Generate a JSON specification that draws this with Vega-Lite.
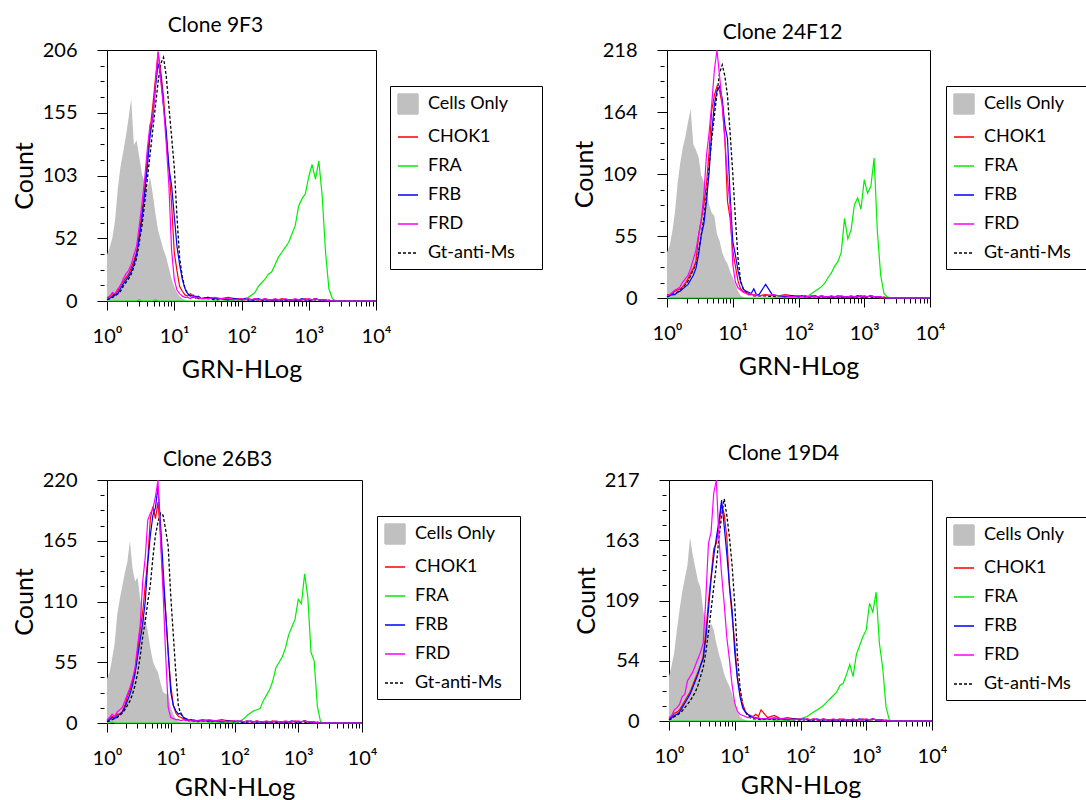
{
  "$schema": "https://vega.github.io/schema/vega-lite/v6.json",
  "background": "white",
  "padding": {"left": 11, "top": 14, "right": 0, "bottom": 0},
  "config": {
    "font": "Lato",
    "view": {"stroke": "black", "strokeWidth": 1},
    "axis": {"labelFont": "Lato", "labelFontSize": 20, "labelColor": "black", "titleFont": "Lato", "titleFontWeight": "normal", "titleColor": "black", "domainColor": "black", "tickColor": "black", "grid": false, "labelFlush": false, "labelOverlap": false},
    "title": {"font": "Lato", "fontSize": 21, "fontWeight": "normal", "color": "black", "anchor": "middle", "offset": 4},
    "legend": {"strokeColor": "black", "padding": 7, "labelFont": "Lato", "labelFontSize": 18, "labelColor": "black", "symbolSize": 400, "rowPadding": 9, "labelOffset": 9, "symbolStrokeWidth": 1.5, "symbolOpacity": 1, "titleOrient": "right", "titlePadding": 20, "titleFontSize": 18, "titleFont": "Lato"}
  },
  "datasets": {
    "c9F3": [
      {"e":0,"Cells Only":38,"CHOK1":2,"FRA":0,"FRB":1,"FRD":3,"Gt-anti-Ms":1},
      {"e":0.04,"Cells Only":44,"CHOK1":4,"FRA":0,"FRB":2,"FRD":3,"Gt-anti-Ms":2},
      {"e":0.08,"Cells Only":52,"CHOK1":6,"FRA":0,"FRB":4,"FRD":7,"Gt-anti-Ms":3},
      {"e":0.12,"Cells Only":66,"CHOK1":5,"FRA":0,"FRB":5,"FRD":6,"Gt-anti-Ms":4},
      {"e":0.16,"Cells Only":92,"CHOK1":8,"FRA":0,"FRB":6,"FRD":10,"Gt-anti-Ms":6},
      {"e":0.2,"Cells Only":110,"CHOK1":13,"FRA":0,"FRB":10,"FRD":12,"Gt-anti-Ms":8},
      {"e":0.24,"Cells Only":122,"CHOK1":16,"FRA":0,"FRB":14,"FRD":18,"Gt-anti-Ms":12},
      {"e":0.28,"Cells Only":135,"CHOK1":19,"FRA":0,"FRB":17,"FRD":22,"Gt-anti-Ms":15},
      {"e":0.32,"Cells Only":150,"CHOK1":22,"FRA":0,"FRB":20,"FRD":25,"Gt-anti-Ms":18},
      {"e":0.36,"Cells Only":166,"CHOK1":27,"FRA":0,"FRB":24,"FRD":30,"Gt-anti-Ms":22},
      {"e":0.4,"Cells Only":128,"CHOK1":33,"FRA":0,"FRB":30,"FRD":38,"Gt-anti-Ms":28},
      {"e":0.44,"Cells Only":132,"CHOK1":40,"FRA":0,"FRB":38,"FRD":45,"Gt-anti-Ms":35},
      {"e":0.48,"Cells Only":118,"CHOK1":55,"FRA":1,"FRB":52,"FRD":62,"Gt-anti-Ms":48},
      {"e":0.52,"Cells Only":104,"CHOK1":72,"FRA":0,"FRB":68,"FRD":80,"Gt-anti-Ms":62},
      {"e":0.56,"Cells Only":98,"CHOK1":92,"FRA":0,"FRB":88,"FRD":100,"Gt-anti-Ms":80},
      {"e":0.6,"Cells Only":92,"CHOK1":118,"FRA":0,"FRB":110,"FRD":125,"Gt-anti-Ms":100},
      {"e":0.64,"Cells Only":102,"CHOK1":140,"FRA":0,"FRB":135,"FRD":145,"Gt-anti-Ms":120},
      {"e":0.68,"Cells Only":88,"CHOK1":160,"FRA":0,"FRB":150,"FRD":148,"Gt-anti-Ms":140},
      {"e":0.72,"Cells Only":72,"CHOK1":182,"FRA":1,"FRB":175,"FRD":178,"Gt-anti-Ms":160},
      {"e":0.76,"Cells Only":58,"CHOK1":204,"FRA":0,"FRB":195,"FRD":205,"Gt-anti-Ms":180},
      {"e":0.8,"Cells Only":50,"CHOK1":188,"FRA":0,"FRB":185,"FRD":180,"Gt-anti-Ms":195},
      {"e":0.84,"Cells Only":42,"CHOK1":168,"FRA":0,"FRB":160,"FRD":160,"Gt-anti-Ms":200},
      {"e":0.88,"Cells Only":36,"CHOK1":135,"FRA":0,"FRB":140,"FRD":130,"Gt-anti-Ms":185},
      {"e":0.92,"Cells Only":27,"CHOK1":110,"FRA":0,"FRB":110,"FRD":95,"Gt-anti-Ms":160},
      {"e":0.96,"Cells Only":18,"CHOK1":80,"FRA":0,"FRB":95,"FRD":42,"Gt-anti-Ms":135},
      {"e":1,"Cells Only":12,"CHOK1":40,"FRA":0,"FRB":70,"FRD":18,"Gt-anti-Ms":110},
      {"e":1.04,"Cells Only":7,"CHOK1":25,"FRA":0,"FRB":45,"FRD":9,"Gt-anti-Ms":70},
      {"e":1.08,"Cells Only":4,"CHOK1":12,"FRA":0,"FRB":30,"FRD":6,"Gt-anti-Ms":35},
      {"e":1.12,"Cells Only":2,"CHOK1":8,"FRA":0,"FRB":18,"FRD":4,"Gt-anti-Ms":20},
      {"e":1.16,"Cells Only":1,"CHOK1":5,"FRA":0,"FRB":10,"FRD":3,"Gt-anti-Ms":10},
      {"e":1.2,"Cells Only":0,"CHOK1":4,"FRA":0,"FRB":6,"FRD":3,"Gt-anti-Ms":6},
      {"e":1.24,"CHOK1":6,"FRA":0,"FRB":4,"FRD":2,"Gt-anti-Ms":4},
      {"e":1.28,"CHOK1":3,"FRA":0,"FRB":5,"FRD":4,"Gt-anti-Ms":3},
      {"e":1.32,"CHOK1":4,"FRA":0,"FRB":3,"FRD":2,"Gt-anti-Ms":3},
      {"e":1.36,"CHOK1":3,"FRA":0,"FRB":4,"FRD":3,"Gt-anti-Ms":2},
      {"e":1.4,"CHOK1":2,"FRA":0,"FRB":2,"FRD":2,"Gt-anti-Ms":2},
      {"e":1.5,"CHOK1":3,"FRA":0,"FRB":3,"FRD":2,"Gt-anti-Ms":2},
      {"e":1.6,"CHOK1":2,"FRA":0,"FRB":2,"FRD":3,"Gt-anti-Ms":1},
      {"e":1.7,"CHOK1":2,"FRA":1,"FRB":2,"FRD":2,"Gt-anti-Ms":2},
      {"e":1.8,"CHOK1":3,"FRA":0,"FRB":1,"FRD":2,"Gt-anti-Ms":1},
      {"e":1.9,"CHOK1":2,"FRA":1,"FRB":2,"FRD":1,"Gt-anti-Ms":1},
      {"e":2,"CHOK1":2,"FRA":1,"FRB":1,"FRD":2,"Gt-anti-Ms":1},
      {"e":2.05,"CHOK1":1,"FRA":2,"FRB":2,"FRD":1,"Gt-anti-Ms":1},
      {"e":2.1,"CHOK1":2,"FRA":3,"FRB":1,"FRD":2,"Gt-anti-Ms":1},
      {"e":2.15,"CHOK1":1,"FRA":5,"FRB":1,"FRD":1,"Gt-anti-Ms":0},
      {"e":2.2,"CHOK1":2,"FRA":7,"FRB":1,"FRD":2,"Gt-anti-Ms":1},
      {"e":2.25,"CHOK1":1,"FRA":12,"FRB":2,"FRD":1,"Gt-anti-Ms":1},
      {"e":2.3,"CHOK1":1,"FRA":15,"FRB":1,"FRD":1,"Gt-anti-Ms":0},
      {"e":2.35,"CHOK1":2,"FRA":18,"FRB":1,"FRD":2,"Gt-anti-Ms":1},
      {"e":2.4,"CHOK1":1,"FRA":22,"FRB":1,"FRD":1,"Gt-anti-Ms":1},
      {"e":2.45,"CHOK1":1,"FRA":24,"FRB":1,"FRD":1,"Gt-anti-Ms":0},
      {"e":2.5,"CHOK1":1,"FRA":30,"FRB":1,"FRD":2,"Gt-anti-Ms":1},
      {"e":2.55,"CHOK1":1,"FRA":36,"FRB":1,"FRD":1,"Gt-anti-Ms":1},
      {"e":2.6,"CHOK1":2,"FRA":40,"FRB":1,"FRD":1,"Gt-anti-Ms":0},
      {"e":2.65,"CHOK1":1,"FRA":44,"FRB":1,"FRD":2,"Gt-anti-Ms":1},
      {"e":2.7,"CHOK1":1,"FRA":48,"FRB":1,"FRD":1,"Gt-anti-Ms":0},
      {"e":2.75,"CHOK1":1,"FRA":55,"FRB":1,"FRD":1,"Gt-anti-Ms":1},
      {"e":2.8,"CHOK1":1,"FRA":62,"FRB":1,"FRD":2,"Gt-anti-Ms":1},
      {"e":2.85,"CHOK1":1,"FRA":78,"FRB":1,"FRD":1,"Gt-anti-Ms":0},
      {"e":2.9,"CHOK1":1,"FRA":84,"FRB":2,"FRD":1,"Gt-anti-Ms":1},
      {"e":2.95,"CHOK1":2,"FRA":88,"FRB":1,"FRD":1,"Gt-anti-Ms":1},
      {"e":3,"CHOK1":1,"FRA":102,"FRB":1,"FRD":2,"Gt-anti-Ms":0},
      {"e":3.05,"CHOK1":1,"FRA":112,"FRB":1,"FRD":1,"Gt-anti-Ms":1},
      {"e":3.1,"CHOK1":2,"FRA":100,"FRB":2,"FRD":2,"Gt-anti-Ms":1},
      {"e":3.15,"CHOK1":1,"FRA":115,"FRB":1,"FRD":1,"Gt-anti-Ms":0},
      {"e":3.2,"CHOK1":1,"FRA":86,"FRB":1,"FRD":1,"Gt-anti-Ms":1},
      {"e":3.25,"CHOK1":0,"FRA":40,"FRB":1,"FRD":1,"Gt-anti-Ms":0},
      {"e":3.3,"CHOK1":1,"FRA":10,"FRB":0,"FRD":0,"Gt-anti-Ms":0},
      {"e":3.35,"CHOK1":0,"FRA":2,"FRB":0,"FRD":0,"Gt-anti-Ms":0},
      {"e":3.4,"CHOK1":0,"FRA":0,"FRB":0,"FRD":0,"Gt-anti-Ms":0},
      {"e":3.6,"CHOK1":0,"FRA":0,"FRB":0,"FRD":0,"Gt-anti-Ms":0},
      {"e":3.8,"CHOK1":0,"FRA":0,"FRB":0,"FRD":0,"Gt-anti-Ms":0},
      {"e":4,"CHOK1":0,"FRA":0,"FRB":0,"FRD":0,"Gt-anti-Ms":0}
    ],
    "c24F12": [
      {"e":0,"Cells Only":40,"CHOK1":3,"FRA":0,"FRB":1,"FRD":2,"Gt-anti-Ms":1},
      {"e":0.04,"Cells Only":46,"CHOK1":3,"FRA":0,"FRB":2,"FRD":3,"Gt-anti-Ms":2},
      {"e":0.08,"Cells Only":58,"CHOK1":4,"FRA":0,"FRB":3,"FRD":5,"Gt-anti-Ms":3},
      {"e":0.12,"Cells Only":75,"CHOK1":6,"FRA":0,"FRB":3,"FRD":7,"Gt-anti-Ms":4},
      {"e":0.16,"Cells Only":100,"CHOK1":7,"FRA":0,"FRB":5,"FRD":8,"Gt-anti-Ms":5},
      {"e":0.2,"Cells Only":118,"CHOK1":8,"FRA":0,"FRB":6,"FRD":10,"Gt-anti-Ms":7},
      {"e":0.24,"Cells Only":132,"CHOK1":10,"FRA":0,"FRB":8,"FRD":14,"Gt-anti-Ms":9},
      {"e":0.28,"Cells Only":142,"CHOK1":13,"FRA":0,"FRB":10,"FRD":17,"Gt-anti-Ms":12},
      {"e":0.32,"Cells Only":155,"CHOK1":17,"FRA":0,"FRB":12,"FRD":20,"Gt-anti-Ms":15},
      {"e":0.36,"Cells Only":166,"CHOK1":22,"FRA":0,"FRB":16,"FRD":26,"Gt-anti-Ms":20},
      {"e":0.4,"Cells Only":135,"CHOK1":26,"FRA":0,"FRB":20,"FRD":34,"Gt-anti-Ms":25},
      {"e":0.44,"Cells Only":130,"CHOK1":32,"FRA":0,"FRB":26,"FRD":42,"Gt-anti-Ms":30},
      {"e":0.48,"Cells Only":124,"CHOK1":55,"FRA":0,"FRB":38,"FRD":55,"Gt-anti-Ms":40},
      {"e":0.52,"Cells Only":108,"CHOK1":68,"FRA":0,"FRB":55,"FRD":68,"Gt-anti-Ms":55},
      {"e":0.56,"Cells Only":102,"CHOK1":82,"FRA":0,"FRB":65,"FRD":90,"Gt-anti-Ms":70},
      {"e":0.6,"Cells Only":95,"CHOK1":100,"FRA":0,"FRB":85,"FRD":125,"Gt-anti-Ms":90},
      {"e":0.64,"Cells Only":82,"CHOK1":128,"FRA":0,"FRB":110,"FRD":145,"Gt-anti-Ms":115},
      {"e":0.68,"Cells Only":75,"CHOK1":165,"FRA":0,"FRB":145,"FRD":170,"Gt-anti-Ms":140},
      {"e":0.72,"Cells Only":72,"CHOK1":178,"FRA":0,"FRB":170,"FRD":200,"Gt-anti-Ms":160},
      {"e":0.76,"Cells Only":56,"CHOK1":186,"FRA":0,"FRB":182,"FRD":218,"Gt-anti-Ms":180},
      {"e":0.8,"Cells Only":50,"CHOK1":182,"FRA":0,"FRB":186,"FRD":195,"Gt-anti-Ms":198},
      {"e":0.84,"Cells Only":40,"CHOK1":170,"FRA":0,"FRB":175,"FRD":170,"Gt-anti-Ms":205},
      {"e":0.88,"Cells Only":34,"CHOK1":140,"FRA":0,"FRB":152,"FRD":140,"Gt-anti-Ms":195},
      {"e":0.92,"Cells Only":30,"CHOK1":85,"FRA":0,"FRB":140,"FRD":105,"Gt-anti-Ms":178},
      {"e":0.96,"Cells Only":23,"CHOK1":70,"FRA":0,"FRB":90,"FRD":80,"Gt-anti-Ms":145},
      {"e":1,"Cells Only":18,"CHOK1":42,"FRA":0,"FRB":50,"FRD":30,"Gt-anti-Ms":110},
      {"e":1.04,"Cells Only":12,"CHOK1":28,"FRA":0,"FRB":38,"FRD":14,"Gt-anti-Ms":70},
      {"e":1.08,"Cells Only":6,"CHOK1":15,"FRA":0,"FRB":24,"FRD":9,"Gt-anti-Ms":35},
      {"e":1.12,"Cells Only":2,"CHOK1":8,"FRA":0,"FRB":14,"FRD":7,"Gt-anti-Ms":15},
      {"e":1.16,"Cells Only":1,"CHOK1":6,"FRA":0,"FRB":8,"FRD":5,"Gt-anti-Ms":8},
      {"e":1.2,"Cells Only":0,"CHOK1":5,"FRA":0,"FRB":6,"FRD":4,"Gt-anti-Ms":5},
      {"e":1.24,"CHOK1":4,"FRA":0,"FRB":5,"FRD":3,"Gt-anti-Ms":3},
      {"e":1.28,"CHOK1":3,"FRA":0,"FRB":4,"FRD":4,"Gt-anti-Ms":3},
      {"e":1.32,"CHOK1":3,"FRA":0,"FRB":8,"FRD":2,"Gt-anti-Ms":2},
      {"e":1.36,"CHOK1":2,"FRA":0,"FRB":3,"FRD":3,"Gt-anti-Ms":2},
      {"e":1.4,"CHOK1":2,"FRA":0,"FRB":3,"FRD":2,"Gt-anti-Ms":2},
      {"e":1.5,"CHOK1":3,"FRA":0,"FRB":12,"FRD":2,"Gt-anti-Ms":2},
      {"e":1.6,"CHOK1":2,"FRA":0,"FRB":3,"FRD":3,"Gt-anti-Ms":1},
      {"e":1.7,"CHOK1":2,"FRA":1,"FRB":2,"FRD":2,"Gt-anti-Ms":2},
      {"e":1.8,"CHOK1":3,"FRA":0,"FRB":1,"FRD":2,"Gt-anti-Ms":1},
      {"e":1.9,"CHOK1":2,"FRA":1,"FRB":2,"FRD":1,"Gt-anti-Ms":1},
      {"e":2,"CHOK1":2,"FRA":0,"FRB":1,"FRD":2,"Gt-anti-Ms":1},
      {"e":2.05,"CHOK1":1,"FRA":1,"FRB":2,"FRD":1,"Gt-anti-Ms":1},
      {"e":2.1,"CHOK1":2,"FRA":1,"FRB":1,"FRD":2,"Gt-anti-Ms":1},
      {"e":2.15,"CHOK1":1,"FRA":2,"FRB":1,"FRD":1,"Gt-anti-Ms":0},
      {"e":2.2,"CHOK1":2,"FRA":4,"FRB":1,"FRD":2,"Gt-anti-Ms":1},
      {"e":2.25,"CHOK1":1,"FRA":6,"FRB":2,"FRD":1,"Gt-anti-Ms":1},
      {"e":2.3,"CHOK1":1,"FRA":8,"FRB":1,"FRD":1,"Gt-anti-Ms":0},
      {"e":2.35,"CHOK1":2,"FRA":10,"FRB":1,"FRD":2,"Gt-anti-Ms":1},
      {"e":2.4,"CHOK1":1,"FRA":13,"FRB":1,"FRD":1,"Gt-anti-Ms":1},
      {"e":2.45,"CHOK1":1,"FRA":18,"FRB":1,"FRD":1,"Gt-anti-Ms":0},
      {"e":2.5,"CHOK1":1,"FRA":22,"FRB":1,"FRD":2,"Gt-anti-Ms":1},
      {"e":2.55,"CHOK1":1,"FRA":28,"FRB":1,"FRD":1,"Gt-anti-Ms":1},
      {"e":2.6,"CHOK1":2,"FRA":32,"FRB":1,"FRD":1,"Gt-anti-Ms":0},
      {"e":2.65,"CHOK1":1,"FRA":40,"FRB":1,"FRD":2,"Gt-anti-Ms":1},
      {"e":2.7,"CHOK1":1,"FRA":70,"FRB":1,"FRD":1,"Gt-anti-Ms":0},
      {"e":2.75,"CHOK1":1,"FRA":52,"FRB":1,"FRD":1,"Gt-anti-Ms":1},
      {"e":2.8,"CHOK1":1,"FRA":60,"FRB":1,"FRD":2,"Gt-anti-Ms":1},
      {"e":2.85,"CHOK1":1,"FRA":82,"FRB":1,"FRD":1,"Gt-anti-Ms":0},
      {"e":2.9,"CHOK1":1,"FRA":88,"FRB":2,"FRD":1,"Gt-anti-Ms":1},
      {"e":2.95,"CHOK1":2,"FRA":78,"FRB":1,"FRD":1,"Gt-anti-Ms":1},
      {"e":3,"CHOK1":1,"FRA":104,"FRB":1,"FRD":2,"Gt-anti-Ms":0},
      {"e":3.05,"CHOK1":1,"FRA":92,"FRB":1,"FRD":1,"Gt-anti-Ms":1},
      {"e":3.1,"CHOK1":2,"FRA":98,"FRB":2,"FRD":2,"Gt-anti-Ms":1},
      {"e":3.15,"CHOK1":1,"FRA":123,"FRB":1,"FRD":1,"Gt-anti-Ms":0},
      {"e":3.2,"CHOK1":1,"FRA":58,"FRB":1,"FRD":1,"Gt-anti-Ms":1},
      {"e":3.25,"CHOK1":0,"FRA":20,"FRB":1,"FRD":1,"Gt-anti-Ms":0},
      {"e":3.3,"CHOK1":1,"FRA":4,"FRB":0,"FRD":0,"Gt-anti-Ms":0},
      {"e":3.35,"CHOK1":0,"FRA":1,"FRB":0,"FRD":0,"Gt-anti-Ms":0},
      {"e":3.4,"CHOK1":0,"FRA":0,"FRB":0,"FRD":0,"Gt-anti-Ms":0},
      {"e":3.6,"CHOK1":0,"FRA":0,"FRB":0,"FRD":0,"Gt-anti-Ms":0},
      {"e":3.8,"CHOK1":0,"FRA":0,"FRB":0,"FRD":0,"Gt-anti-Ms":0},
      {"e":4,"CHOK1":0,"FRA":0,"FRB":0,"FRD":0,"Gt-anti-Ms":0}
    ],
    "c26B3": [
      {"e":0,"Cells Only":40,"CHOK1":2,"FRA":0,"FRB":1,"FRD":3,"Gt-anti-Ms":1},
      {"e":0.04,"Cells Only":46,"CHOK1":4,"FRA":0,"FRB":3,"FRD":5,"Gt-anti-Ms":2},
      {"e":0.08,"Cells Only":58,"CHOK1":6,"FRA":1,"FRB":5,"FRD":8,"Gt-anti-Ms":3},
      {"e":0.12,"Cells Only":72,"CHOK1":5,"FRA":0,"FRB":4,"FRD":6,"Gt-anti-Ms":4},
      {"e":0.16,"Cells Only":98,"CHOK1":8,"FRA":0,"FRB":6,"FRD":10,"Gt-anti-Ms":5},
      {"e":0.2,"Cells Only":112,"CHOK1":8,"FRA":0,"FRB":8,"FRD":12,"Gt-anti-Ms":7},
      {"e":0.24,"Cells Only":124,"CHOK1":10,"FRA":0,"FRB":10,"FRD":14,"Gt-anti-Ms":9},
      {"e":0.28,"Cells Only":136,"CHOK1":16,"FRA":0,"FRB":14,"FRD":20,"Gt-anti-Ms":12},
      {"e":0.32,"Cells Only":146,"CHOK1":24,"FRA":0,"FRB":20,"FRD":26,"Gt-anti-Ms":16},
      {"e":0.36,"Cells Only":165,"CHOK1":30,"FRA":0,"FRB":26,"FRD":32,"Gt-anti-Ms":20},
      {"e":0.4,"Cells Only":140,"CHOK1":38,"FRA":0,"FRB":34,"FRD":40,"Gt-anti-Ms":26},
      {"e":0.44,"Cells Only":128,"CHOK1":48,"FRA":0,"FRB":45,"FRD":50,"Gt-anti-Ms":34},
      {"e":0.48,"Cells Only":132,"CHOK1":65,"FRA":0,"FRB":60,"FRD":70,"Gt-anti-Ms":45},
      {"e":0.52,"Cells Only":112,"CHOK1":85,"FRA":0,"FRB":75,"FRD":88,"Gt-anti-Ms":60},
      {"e":0.56,"Cells Only":100,"CHOK1":100,"FRA":0,"FRB":90,"FRD":128,"Gt-anti-Ms":78},
      {"e":0.6,"Cells Only":94,"CHOK1":125,"FRA":0,"FRB":110,"FRD":150,"Gt-anti-Ms":92},
      {"e":0.64,"Cells Only":83,"CHOK1":148,"FRA":0,"FRB":145,"FRD":184,"Gt-anti-Ms":110},
      {"e":0.68,"Cells Only":68,"CHOK1":185,"FRA":0,"FRB":170,"FRD":190,"Gt-anti-Ms":125},
      {"e":0.72,"Cells Only":56,"CHOK1":196,"FRA":0,"FRB":188,"FRD":194,"Gt-anti-Ms":150},
      {"e":0.76,"Cells Only":50,"CHOK1":185,"FRA":0,"FRB":195,"FRD":205,"Gt-anti-Ms":170},
      {"e":0.8,"Cells Only":46,"CHOK1":200,"FRA":0,"FRB":214,"FRD":220,"Gt-anti-Ms":182},
      {"e":0.84,"Cells Only":36,"CHOK1":170,"FRA":0,"FRB":180,"FRD":165,"Gt-anti-Ms":190},
      {"e":0.88,"Cells Only":28,"CHOK1":128,"FRA":0,"FRB":140,"FRD":118,"Gt-anti-Ms":188},
      {"e":0.92,"Cells Only":26,"CHOK1":100,"FRA":0,"FRB":100,"FRD":62,"Gt-anti-Ms":175},
      {"e":0.96,"Cells Only":27,"CHOK1":62,"FRA":0,"FRB":65,"FRD":14,"Gt-anti-Ms":160},
      {"e":1,"Cells Only":14,"CHOK1":34,"FRA":0,"FRB":28,"FRD":5,"Gt-anti-Ms":115},
      {"e":1.04,"Cells Only":8,"CHOK1":16,"FRA":0,"FRB":16,"FRD":4,"Gt-anti-Ms":80},
      {"e":1.08,"Cells Only":4,"CHOK1":9,"FRA":0,"FRB":11,"FRD":3,"Gt-anti-Ms":45},
      {"e":1.12,"Cells Only":2,"CHOK1":6,"FRA":0,"FRB":8,"FRD":3,"Gt-anti-Ms":15},
      {"e":1.16,"Cells Only":0,"CHOK1":5,"FRA":0,"FRB":9,"FRD":2,"Gt-anti-Ms":8},
      {"e":1.2,"CHOK1":4,"FRA":0,"FRB":5,"FRD":3,"Gt-anti-Ms":5},
      {"e":1.24,"CHOK1":3,"FRA":0,"FRB":4,"FRD":2,"Gt-anti-Ms":3},
      {"e":1.28,"CHOK1":3,"FRA":0,"FRB":3,"FRD":3,"Gt-anti-Ms":2},
      {"e":1.32,"CHOK1":2,"FRA":0,"FRB":3,"FRD":2,"Gt-anti-Ms":2},
      {"e":1.36,"CHOK1":3,"FRA":0,"FRB":2,"FRD":2,"Gt-anti-Ms":2},
      {"e":1.4,"CHOK1":2,"FRA":0,"FRB":2,"FRD":2,"Gt-anti-Ms":1},
      {"e":1.5,"CHOK1":3,"FRA":0,"FRB":2,"FRD":2,"Gt-anti-Ms":2},
      {"e":1.6,"CHOK1":2,"FRA":0,"FRB":2,"FRD":3,"Gt-anti-Ms":1},
      {"e":1.7,"CHOK1":2,"FRA":1,"FRB":2,"FRD":2,"Gt-anti-Ms":2},
      {"e":1.8,"CHOK1":3,"FRA":0,"FRB":1,"FRD":2,"Gt-anti-Ms":1},
      {"e":1.9,"CHOK1":2,"FRA":1,"FRB":2,"FRD":1,"Gt-anti-Ms":1},
      {"e":2,"CHOK1":2,"FRA":0,"FRB":1,"FRD":2,"Gt-anti-Ms":1},
      {"e":2.05,"CHOK1":1,"FRA":1,"FRB":2,"FRD":1,"Gt-anti-Ms":1},
      {"e":2.1,"CHOK1":2,"FRA":2,"FRB":1,"FRD":2,"Gt-anti-Ms":1},
      {"e":2.15,"CHOK1":1,"FRA":4,"FRB":1,"FRD":1,"Gt-anti-Ms":0},
      {"e":2.2,"CHOK1":2,"FRA":7,"FRB":1,"FRD":2,"Gt-anti-Ms":1},
      {"e":2.25,"CHOK1":1,"FRA":9,"FRB":2,"FRD":1,"Gt-anti-Ms":1},
      {"e":2.3,"CHOK1":1,"FRA":11,"FRB":1,"FRD":1,"Gt-anti-Ms":0},
      {"e":2.35,"CHOK1":2,"FRA":12,"FRB":1,"FRD":2,"Gt-anti-Ms":1},
      {"e":2.4,"CHOK1":1,"FRA":13,"FRB":1,"FRD":1,"Gt-anti-Ms":1},
      {"e":2.45,"CHOK1":1,"FRA":20,"FRB":1,"FRD":1,"Gt-anti-Ms":0},
      {"e":2.5,"CHOK1":1,"FRA":25,"FRB":1,"FRD":2,"Gt-anti-Ms":1},
      {"e":2.55,"CHOK1":1,"FRA":30,"FRB":1,"FRD":1,"Gt-anti-Ms":1},
      {"e":2.6,"CHOK1":2,"FRA":38,"FRB":1,"FRD":1,"Gt-anti-Ms":0},
      {"e":2.65,"CHOK1":1,"FRA":50,"FRB":1,"FRD":2,"Gt-anti-Ms":1},
      {"e":2.7,"CHOK1":1,"FRA":55,"FRB":1,"FRD":1,"Gt-anti-Ms":0},
      {"e":2.75,"CHOK1":1,"FRA":60,"FRB":1,"FRD":1,"Gt-anti-Ms":1},
      {"e":2.8,"CHOK1":1,"FRA":68,"FRB":1,"FRD":2,"Gt-anti-Ms":1},
      {"e":2.85,"CHOK1":1,"FRA":80,"FRB":1,"FRD":1,"Gt-anti-Ms":0},
      {"e":2.9,"CHOK1":1,"FRA":87,"FRB":2,"FRD":1,"Gt-anti-Ms":1},
      {"e":2.95,"CHOK1":2,"FRA":94,"FRB":1,"FRD":1,"Gt-anti-Ms":1},
      {"e":3,"CHOK1":1,"FRA":112,"FRB":1,"FRD":2,"Gt-anti-Ms":0},
      {"e":3.05,"CHOK1":1,"FRA":108,"FRB":1,"FRD":1,"Gt-anti-Ms":1},
      {"e":3.1,"CHOK1":2,"FRA":135,"FRB":2,"FRD":2,"Gt-anti-Ms":1},
      {"e":3.15,"CHOK1":1,"FRA":114,"FRB":1,"FRD":1,"Gt-anti-Ms":0},
      {"e":3.2,"CHOK1":1,"FRA":64,"FRB":1,"FRD":1,"Gt-anti-Ms":1},
      {"e":3.25,"CHOK1":0,"FRA":56,"FRB":1,"FRD":1,"Gt-anti-Ms":0},
      {"e":3.3,"CHOK1":1,"FRA":15,"FRB":0,"FRD":0,"Gt-anti-Ms":0},
      {"e":3.35,"CHOK1":0,"FRA":1,"FRB":0,"FRD":0,"Gt-anti-Ms":0},
      {"e":3.4,"CHOK1":0,"FRA":0,"FRB":0,"FRD":0,"Gt-anti-Ms":0},
      {"e":3.6,"CHOK1":0,"FRA":0,"FRB":0,"FRD":0,"Gt-anti-Ms":0},
      {"e":3.8,"CHOK1":0,"FRA":0,"FRB":0,"FRD":0,"Gt-anti-Ms":0},
      {"e":4,"CHOK1":0,"FRA":0,"FRB":0,"FRD":0,"Gt-anti-Ms":0}
    ],
    "c19D4": [
      {"e":0,"Cells Only":40,"CHOK1":2,"FRA":0,"FRB":1,"FRD":3,"Gt-anti-Ms":1},
      {"e":0.04,"Cells Only":50,"CHOK1":4,"FRA":0,"FRB":3,"FRD":5,"Gt-anti-Ms":2},
      {"e":0.08,"Cells Only":62,"CHOK1":7,"FRA":0,"FRB":5,"FRD":10,"Gt-anti-Ms":4},
      {"e":0.12,"Cells Only":82,"CHOK1":8,"FRA":0,"FRB":6,"FRD":12,"Gt-anti-Ms":5},
      {"e":0.16,"Cells Only":100,"CHOK1":10,"FRA":0,"FRB":8,"FRD":15,"Gt-anti-Ms":7},
      {"e":0.2,"Cells Only":116,"CHOK1":14,"FRA":0,"FRB":12,"FRD":22,"Gt-anti-Ms":9},
      {"e":0.24,"Cells Only":128,"CHOK1":18,"FRA":0,"FRB":16,"FRD":24,"Gt-anti-Ms":12},
      {"e":0.28,"Cells Only":140,"CHOK1":22,"FRA":0,"FRB":20,"FRD":36,"Gt-anti-Ms":15},
      {"e":0.32,"Cells Only":165,"CHOK1":26,"FRA":0,"FRB":24,"FRD":40,"Gt-anti-Ms":18},
      {"e":0.36,"Cells Only":150,"CHOK1":32,"FRA":0,"FRB":30,"FRD":44,"Gt-anti-Ms":22},
      {"e":0.4,"Cells Only":138,"CHOK1":38,"FRA":0,"FRB":36,"FRD":50,"Gt-anti-Ms":26},
      {"e":0.44,"Cells Only":126,"CHOK1":44,"FRA":0,"FRB":42,"FRD":56,"Gt-anti-Ms":32},
      {"e":0.48,"Cells Only":120,"CHOK1":50,"FRA":0,"FRB":50,"FRD":62,"Gt-anti-Ms":40},
      {"e":0.52,"Cells Only":100,"CHOK1":58,"FRA":0,"FRB":56,"FRD":70,"Gt-anti-Ms":48},
      {"e":0.56,"Cells Only":88,"CHOK1":80,"FRA":0,"FRB":75,"FRD":110,"Gt-anti-Ms":62},
      {"e":0.6,"Cells Only":82,"CHOK1":108,"FRA":0,"FRB":100,"FRD":160,"Gt-anti-Ms":80},
      {"e":0.64,"Cells Only":88,"CHOK1":130,"FRA":0,"FRB":128,"FRD":170,"Gt-anti-Ms":100},
      {"e":0.68,"Cells Only":82,"CHOK1":155,"FRA":0,"FRB":148,"FRD":205,"Gt-anti-Ms":120},
      {"e":0.72,"Cells Only":70,"CHOK1":160,"FRA":0,"FRB":165,"FRD":217,"Gt-anti-Ms":140},
      {"e":0.76,"Cells Only":60,"CHOK1":175,"FRA":0,"FRB":180,"FRD":164,"Gt-anti-Ms":165},
      {"e":0.8,"Cells Only":52,"CHOK1":195,"FRA":0,"FRB":199,"FRD":132,"Gt-anti-Ms":185},
      {"e":0.84,"Cells Only":42,"CHOK1":186,"FRA":0,"FRB":175,"FRD":105,"Gt-anti-Ms":200},
      {"e":0.88,"Cells Only":36,"CHOK1":165,"FRA":0,"FRB":150,"FRD":75,"Gt-anti-Ms":185},
      {"e":0.92,"Cells Only":31,"CHOK1":120,"FRA":0,"FRB":122,"FRD":55,"Gt-anti-Ms":165},
      {"e":0.96,"Cells Only":24,"CHOK1":94,"FRA":0,"FRB":100,"FRD":32,"Gt-anti-Ms":140},
      {"e":1,"Cells Only":16,"CHOK1":70,"FRA":0,"FRB":62,"FRD":16,"Gt-anti-Ms":105},
      {"e":1.04,"Cells Only":9,"CHOK1":40,"FRA":0,"FRB":38,"FRD":9,"Gt-anti-Ms":60},
      {"e":1.08,"Cells Only":4,"CHOK1":25,"FRA":0,"FRB":22,"FRD":6,"Gt-anti-Ms":30},
      {"e":1.12,"Cells Only":2,"CHOK1":15,"FRA":0,"FRB":12,"FRD":5,"Gt-anti-Ms":15},
      {"e":1.16,"Cells Only":1,"CHOK1":9,"FRA":0,"FRB":8,"FRD":4,"Gt-anti-Ms":8},
      {"e":1.2,"Cells Only":0,"CHOK1":6,"FRA":0,"FRB":6,"FRD":3,"Gt-anti-Ms":5},
      {"e":1.24,"CHOK1":5,"FRA":0,"FRB":4,"FRD":3,"Gt-anti-Ms":3},
      {"e":1.28,"CHOK1":4,"FRA":0,"FRB":3,"FRD":4,"Gt-anti-Ms":2},
      {"e":1.32,"CHOK1":6,"FRA":0,"FRB":3,"FRD":2,"Gt-anti-Ms":2},
      {"e":1.36,"CHOK1":4,"FRA":0,"FRB":2,"FRD":3,"Gt-anti-Ms":2},
      {"e":1.4,"CHOK1":10,"FRA":0,"FRB":2,"FRD":2,"Gt-anti-Ms":1},
      {"e":1.5,"CHOK1":3,"FRA":0,"FRB":2,"FRD":2,"Gt-anti-Ms":2},
      {"e":1.6,"CHOK1":5,"FRA":0,"FRB":2,"FRD":3,"Gt-anti-Ms":1},
      {"e":1.7,"CHOK1":2,"FRA":1,"FRB":2,"FRD":2,"Gt-anti-Ms":2},
      {"e":1.8,"CHOK1":3,"FRA":0,"FRB":1,"FRD":2,"Gt-anti-Ms":1},
      {"e":1.9,"CHOK1":2,"FRA":1,"FRB":2,"FRD":1,"Gt-anti-Ms":1},
      {"e":2,"CHOK1":2,"FRA":2,"FRB":1,"FRD":2,"Gt-anti-Ms":1},
      {"e":2.05,"CHOK1":1,"FRA":3,"FRB":2,"FRD":1,"Gt-anti-Ms":1},
      {"e":2.1,"CHOK1":2,"FRA":4,"FRB":1,"FRD":2,"Gt-anti-Ms":1},
      {"e":2.15,"CHOK1":1,"FRA":6,"FRB":1,"FRD":1,"Gt-anti-Ms":0},
      {"e":2.2,"CHOK1":2,"FRA":8,"FRB":1,"FRD":2,"Gt-anti-Ms":1},
      {"e":2.25,"CHOK1":1,"FRA":10,"FRB":2,"FRD":1,"Gt-anti-Ms":1},
      {"e":2.3,"CHOK1":1,"FRA":12,"FRB":1,"FRD":1,"Gt-anti-Ms":0},
      {"e":2.35,"CHOK1":2,"FRA":14,"FRB":1,"FRD":2,"Gt-anti-Ms":1},
      {"e":2.4,"CHOK1":1,"FRA":17,"FRB":1,"FRD":1,"Gt-anti-Ms":1},
      {"e":2.45,"CHOK1":1,"FRA":20,"FRB":1,"FRD":1,"Gt-anti-Ms":0},
      {"e":2.5,"CHOK1":1,"FRA":23,"FRB":1,"FRD":2,"Gt-anti-Ms":1},
      {"e":2.55,"CHOK1":1,"FRA":26,"FRB":1,"FRD":1,"Gt-anti-Ms":1},
      {"e":2.6,"CHOK1":2,"FRA":32,"FRB":1,"FRD":1,"Gt-anti-Ms":0},
      {"e":2.65,"CHOK1":1,"FRA":34,"FRB":1,"FRD":2,"Gt-anti-Ms":1},
      {"e":2.7,"CHOK1":1,"FRA":42,"FRB":1,"FRD":1,"Gt-anti-Ms":0},
      {"e":2.75,"CHOK1":1,"FRA":51,"FRB":1,"FRD":1,"Gt-anti-Ms":1},
      {"e":2.8,"CHOK1":1,"FRA":40,"FRB":1,"FRD":2,"Gt-anti-Ms":1},
      {"e":2.85,"CHOK1":1,"FRA":60,"FRB":1,"FRD":1,"Gt-anti-Ms":0},
      {"e":2.9,"CHOK1":1,"FRA":68,"FRB":2,"FRD":1,"Gt-anti-Ms":1},
      {"e":2.95,"CHOK1":2,"FRA":76,"FRB":1,"FRD":1,"Gt-anti-Ms":1},
      {"e":3,"CHOK1":1,"FRA":82,"FRB":1,"FRD":2,"Gt-anti-Ms":0},
      {"e":3.05,"CHOK1":1,"FRA":106,"FRB":1,"FRD":1,"Gt-anti-Ms":1},
      {"e":3.1,"CHOK1":2,"FRA":98,"FRB":2,"FRD":2,"Gt-anti-Ms":1},
      {"e":3.15,"CHOK1":1,"FRA":116,"FRB":1,"FRD":1,"Gt-anti-Ms":0},
      {"e":3.2,"CHOK1":1,"FRA":70,"FRB":1,"FRD":1,"Gt-anti-Ms":1},
      {"e":3.25,"CHOK1":0,"FRA":48,"FRB":1,"FRD":1,"Gt-anti-Ms":0},
      {"e":3.3,"CHOK1":1,"FRA":13,"FRB":0,"FRD":0,"Gt-anti-Ms":0},
      {"e":3.35,"CHOK1":0,"FRA":1,"FRB":0,"FRD":0,"Gt-anti-Ms":0},
      {"e":3.4,"CHOK1":0,"FRA":0,"FRB":0,"FRD":0,"Gt-anti-Ms":0},
      {"e":3.6,"CHOK1":0,"FRA":0,"FRB":0,"FRD":0,"Gt-anti-Ms":0},
      {"e":3.8,"CHOK1":0,"FRA":0,"FRB":0,"FRD":0,"Gt-anti-Ms":0},
      {"e":4,"CHOK1":0,"FRA":0,"FRB":0,"FRD":0,"Gt-anti-Ms":0}
    ]
  },
  "resolve": {"scale": {"color": "independent", "fill": "independent", "stroke": "independent", "shape": "independent", "strokeDash": "independent"}, "legend": {"color": "independent", "fill": "independent", "stroke": "independent", "shape": "independent", "strokeDash": "independent"}},
  "spacing": 59,
  "vconcat": [
    {
      "resolve": {"scale": {"color": "independent", "fill": "independent", "stroke": "independent", "shape": "independent", "strokeDash": "independent"}, "legend": {"color": "independent", "fill": "independent", "stroke": "independent", "shape": "independent", "strokeDash": "independent"}},
      "spacing": 28,
      "hconcat": [
        {
          "width": 269, "height": 251,
          "data": {"name": "c9F3"},
          "title": {"text": "Clone 9F3", "dx": -26, "offset": 4},
          "transform": [{"fold": ["Cells Only","CHOK1","FRA","FRB","FRD","Gt-anti-Ms"], "as": ["series","count"]}],
          "resolve": {"axis": {"x": "independent", "y": "independent"}},
          "layer": [
            {
              "transform": [{"filter": "false"}],
              "mark": {"type": "point", "filled": false},
              "encoding": {
                "fill": {"field": "series", "type": "nominal", "scale": {"domain": ["Cells Only","CHOK1","FRA","FRB","FRD","Gt-anti-Ms"], "range": ["#c0c0c0","transparent","transparent","transparent","transparent","transparent"]}, "legend": {"title": "\u00a0", "orient": "none", "legendX": 283, "legendY": 36}},
                "stroke": {"field": "series", "type": "nominal", "scale": {"domain": ["Cells Only","CHOK1","FRA","FRB","FRD","Gt-anti-Ms"], "range": ["#c0c0c0","#ff0000","#00ee00","#0000ff","#ff00ff","#000000"]}, "legend": {"title": "\u00a0", "orient": "none", "legendX": 283, "legendY": 36}},
                "shape": {"field": "series", "type": "nominal", "scale": {"domain": ["Cells Only","CHOK1","FRA","FRB","FRD","Gt-anti-Ms"], "range": ["square","stroke","stroke","stroke","stroke","stroke"]}, "legend": {"title": "\u00a0", "orient": "none", "legendX": 283, "legendY": 36}},
                "strokeDash": {"field": "series", "type": "nominal", "scale": {"domain": ["Cells Only","CHOK1","FRA","FRB","FRD","Gt-anti-Ms"], "range": [[1,0],[1,0],[1,0],[1,0],[1,0],[3,2]]}, "legend": {"title": "\u00a0", "orient": "none", "legendX": 283, "legendY": 36}}
              }
            },
            {
              "transform": [{"filter": "datum.series === 'Cells Only' && datum.count != null"}],
              "mark": {"type": "area", "interpolate": "linear"},
              "encoding": {
                "x": {"field": "e", "type": "quantitative", "scale": {"domain": [0,4], "nice": false, "zero": false}, "axis": {"orient": "bottom", "values": [0,1,2,3,4], "labelExpr": "'10' + ['⁰','¹','²','³','⁴'][datum.value]", "title": "GRN-HLog", "titleFontSize": 25, "tickSize": 9, "labelPadding": 16, "titlePadding": 11}},
                "y": {"field": "count", "type": "quantitative", "scale": {"domain": [0,206], "nice": false}, "axis": {"orient": "left", "values": [0,51.5,103,154.5,206], "format": "d", "title": "Count", "titleFontSize": 25, "tickSize": 10, "labelPadding": 20, "titlePadding": 5}},
                "color": {"field": "series", "type": "nominal", "scale": {"domain": ["CHOK1","FRA","FRB","FRD","Gt-anti-Ms","Cells Only"], "range": ["#ff0000","#00ee00","#0000ff","#ff00ff","#000000","#c0c0c0"]}, "legend": null}
              }
            },
            {
              "transform": [{"filter": "datum.series === 'Gt-anti-Ms'"}],
              "mark": {"type": "line", "strokeWidth": 1.3, "strokeDash": [3,2]},
              "encoding": {
                "x": {"field": "e", "type": "quantitative", "axis": {"orient": "bottom", "values": [0.30103,0.47712,0.60206,0.69897,0.77815,0.8451,0.90309,0.95424,1.30103,1.47712,1.60206,1.69897,1.77815,1.8451,1.90309,1.95424,2.30103,2.47712,2.60206,2.69897,2.77815,2.8451,2.90309,2.95424,3.30103,3.47712,3.60206,3.69897,3.77815,3.8451,3.90309,3.95424], "labels": false, "domain": false, "title": null, "tickSize": 5}},
                "y": {"field": "count", "type": "quantitative", "axis": {"orient": "left", "values": [12.875,25.75,38.625,64.375,77.25,90.125,115.875,128.75,141.625,167.375,180.25,193.125], "labels": false, "domain": false, "title": null, "tickSize": 4, "offset": 3}},
                "color": {"field": "series", "type": "nominal", "legend": null}
              }
            },
            {
              "transform": [{"filter": "datum.series !== 'Cells Only' && datum.series !== 'Gt-anti-Ms'"}],
              "mark": {"type": "line", "strokeWidth": 1.2},
              "encoding": {
                "x": {"field": "e", "type": "quantitative", "axis": null},
                "y": {"field": "count", "type": "quantitative", "axis": null},
                "color": {"field": "series", "type": "nominal", "legend": null}
              }
            }
          ]
        },
        {
          "width": 263, "height": 248,
          "data": {"name": "c24F12"},
          "title": {"text": "Clone 24F12", "dx": -16, "offset": -3},
          "transform": [{"fold": ["Cells Only","CHOK1","FRA","FRB","FRD","Gt-anti-Ms"], "as": ["series","count"]}],
          "resolve": {"axis": {"x": "independent", "y": "independent"}},
          "layer": [
            {
              "transform": [{"filter": "false"}],
              "mark": {"type": "point", "filled": false},
              "encoding": {
                "fill": {"field": "series", "type": "nominal", "scale": {"domain": ["Cells Only","CHOK1","FRA","FRB","FRD","Gt-anti-Ms"], "range": ["#c0c0c0","transparent","transparent","transparent","transparent","transparent"]}, "legend": {"title": "\u00a0", "orient": "none", "legendX": 279, "legendY": 36}},
                "stroke": {"field": "series", "type": "nominal", "scale": {"domain": ["Cells Only","CHOK1","FRA","FRB","FRD","Gt-anti-Ms"], "range": ["#c0c0c0","#ff0000","#00ee00","#0000ff","#ff00ff","#000000"]}, "legend": {"title": "\u00a0", "orient": "none", "legendX": 279, "legendY": 36}},
                "shape": {"field": "series", "type": "nominal", "scale": {"domain": ["Cells Only","CHOK1","FRA","FRB","FRD","Gt-anti-Ms"], "range": ["square","stroke","stroke","stroke","stroke","stroke"]}, "legend": {"title": "\u00a0", "orient": "none", "legendX": 279, "legendY": 36}},
                "strokeDash": {"field": "series", "type": "nominal", "scale": {"domain": ["Cells Only","CHOK1","FRA","FRB","FRD","Gt-anti-Ms"], "range": [[1,0],[1,0],[1,0],[1,0],[1,0],[3,2]]}, "legend": {"title": "\u00a0", "orient": "none", "legendX": 279, "legendY": 36}}
              }
            },
            {
              "transform": [{"filter": "datum.series === 'Cells Only' && datum.count != null"}],
              "mark": {"type": "area", "interpolate": "linear"},
              "encoding": {
                "x": {"field": "e", "type": "quantitative", "scale": {"domain": [0,4], "nice": false, "zero": false}, "axis": {"orient": "bottom", "values": [0,1,2,3,4], "labelExpr": "'10' + ['⁰','¹','²','³','⁴'][datum.value]", "title": "GRN-HLog", "titleFontSize": 25, "tickSize": 9, "labelPadding": 16, "titlePadding": 11}},
                "y": {"field": "count", "type": "quantitative", "scale": {"domain": [0,218], "nice": false}, "axis": {"orient": "left", "values": [0,54.5,109,163.5,218], "format": "d", "title": "Count", "titleFontSize": 25, "tickSize": 10, "labelPadding": 20, "titlePadding": 5}},
                "color": {"field": "series", "type": "nominal", "scale": {"domain": ["CHOK1","FRA","FRB","FRD","Gt-anti-Ms","Cells Only"], "range": ["#ff0000","#00ee00","#0000ff","#ff00ff","#000000","#c0c0c0"]}, "legend": null}
              }
            },
            {
              "transform": [{"filter": "datum.series === 'Gt-anti-Ms'"}],
              "mark": {"type": "line", "strokeWidth": 1.3, "strokeDash": [3,2]},
              "encoding": {
                "x": {"field": "e", "type": "quantitative", "axis": {"orient": "bottom", "values": [0.30103,0.47712,0.60206,0.69897,0.77815,0.8451,0.90309,0.95424,1.30103,1.47712,1.60206,1.69897,1.77815,1.8451,1.90309,1.95424,2.30103,2.47712,2.60206,2.69897,2.77815,2.8451,2.90309,2.95424,3.30103,3.47712,3.60206,3.69897,3.77815,3.8451,3.90309,3.95424], "labels": false, "domain": false, "title": null, "tickSize": 5}},
                "y": {"field": "count", "type": "quantitative", "axis": {"orient": "left", "values": [13.625,27.25,40.875,68.125,81.75,95.375,122.625,136.25,149.875,177.125,190.75,204.375], "labels": false, "domain": false, "title": null, "tickSize": 4, "offset": 3}},
                "color": {"field": "series", "type": "nominal", "legend": null}
              }
            },
            {
              "transform": [{"filter": "datum.series !== 'Cells Only' && datum.series !== 'Gt-anti-Ms'"}],
              "mark": {"type": "line", "strokeWidth": 1.2},
              "encoding": {
                "x": {"field": "e", "type": "quantitative", "axis": null},
                "y": {"field": "count", "type": "quantitative", "axis": null},
                "color": {"field": "series", "type": "nominal", "legend": null}
              }
            }
          ]
        }
      ]
    },
    {
      "resolve": {"scale": {"color": "independent", "fill": "independent", "stroke": "independent", "shape": "independent", "strokeDash": "independent"}, "legend": {"color": "independent", "fill": "independent", "stroke": "independent", "shape": "independent", "strokeDash": "independent"}},
      "spacing": 52,
      "hconcat": [
        {
          "width": 255, "height": 243,
          "data": {"name": "c26B3"},
          "title": {"text": "Clone 26B3", "dx": -17, "offset": 0},
          "transform": [{"fold": ["Cells Only","CHOK1","FRA","FRB","FRD","Gt-anti-Ms"], "as": ["series","count"]}],
          "resolve": {"axis": {"x": "independent", "y": "independent"}},
          "layer": [
            {
              "transform": [{"filter": "false"}],
              "mark": {"type": "point", "filled": false},
              "encoding": {
                "fill": {"field": "series", "type": "nominal", "scale": {"domain": ["Cells Only","CHOK1","FRA","FRB","FRD","Gt-anti-Ms"], "range": ["#c0c0c0","transparent","transparent","transparent","transparent","transparent"]}, "legend": {"title": "\u00a0", "titlePadding": 11, "orient": "none", "legendX": 270, "legendY": 36}},
                "stroke": {"field": "series", "type": "nominal", "scale": {"domain": ["Cells Only","CHOK1","FRA","FRB","FRD","Gt-anti-Ms"], "range": ["#c0c0c0","#ff0000","#00ee00","#0000ff","#ff00ff","#000000"]}, "legend": {"title": "\u00a0", "titlePadding": 11, "orient": "none", "legendX": 270, "legendY": 36}},
                "shape": {"field": "series", "type": "nominal", "scale": {"domain": ["Cells Only","CHOK1","FRA","FRB","FRD","Gt-anti-Ms"], "range": ["square","stroke","stroke","stroke","stroke","stroke"]}, "legend": {"title": "\u00a0", "titlePadding": 11, "orient": "none", "legendX": 270, "legendY": 36}},
                "strokeDash": {"field": "series", "type": "nominal", "scale": {"domain": ["Cells Only","CHOK1","FRA","FRB","FRD","Gt-anti-Ms"], "range": [[1,0],[1,0],[1,0],[1,0],[1,0],[3,2]]}, "legend": {"title": "\u00a0", "titlePadding": 11, "orient": "none", "legendX": 270, "legendY": 36}}
              }
            },
            {
              "transform": [{"filter": "datum.series === 'Cells Only' && datum.count != null"}],
              "mark": {"type": "area", "interpolate": "linear"},
              "encoding": {
                "x": {"field": "e", "type": "quantitative", "scale": {"domain": [0,4], "nice": false, "zero": false}, "axis": {"orient": "bottom", "values": [0,1,2,3,4], "labelExpr": "'10' + ['⁰','¹','²','³','⁴'][datum.value]", "title": "GRN-HLog", "titleFontSize": 25, "tickSize": 9, "labelPadding": 16, "titlePadding": 7}},
                "y": {"field": "count", "type": "quantitative", "scale": {"domain": [0,220], "nice": false}, "axis": {"orient": "left", "values": [0,55,110,165,220], "format": "d", "title": "Count", "titleFontSize": 25, "tickSize": 10, "labelPadding": 20, "titlePadding": 5}},
                "color": {"field": "series", "type": "nominal", "scale": {"domain": ["CHOK1","FRA","FRB","FRD","Gt-anti-Ms","Cells Only"], "range": ["#ff0000","#00ee00","#0000ff","#ff00ff","#000000","#c0c0c0"]}, "legend": null}
              }
            },
            {
              "transform": [{"filter": "datum.series === 'Gt-anti-Ms'"}],
              "mark": {"type": "line", "strokeWidth": 1.3, "strokeDash": [3,2]},
              "encoding": {
                "x": {"field": "e", "type": "quantitative", "axis": {"orient": "bottom", "values": [0.30103,0.47712,0.60206,0.69897,0.77815,0.8451,0.90309,0.95424,1.30103,1.47712,1.60206,1.69897,1.77815,1.8451,1.90309,1.95424,2.30103,2.47712,2.60206,2.69897,2.77815,2.8451,2.90309,2.95424,3.30103,3.47712,3.60206,3.69897,3.77815,3.8451,3.90309,3.95424], "labels": false, "domain": false, "title": null, "tickSize": 5}},
                "y": {"field": "count", "type": "quantitative", "axis": {"orient": "left", "values": [13.75,27.5,41.25,68.75,82.5,96.25,123.75,137.5,151.25,178.75,192.5,206.25], "labels": false, "domain": false, "title": null, "tickSize": 4, "offset": 3}},
                "color": {"field": "series", "type": "nominal", "legend": null}
              }
            },
            {
              "transform": [{"filter": "datum.series !== 'Cells Only' && datum.series !== 'Gt-anti-Ms'"}],
              "mark": {"type": "line", "strokeWidth": 1.2},
              "encoding": {
                "x": {"field": "e", "type": "quantitative", "axis": null},
                "y": {"field": "count", "type": "quantitative", "axis": null},
                "color": {"field": "series", "type": "nominal", "legend": null}
              }
            }
          ]
        },
        {
          "width": 263, "height": 241,
          "data": {"name": "c19D4"},
          "title": {"text": "Clone 19D4", "dx": -17, "offset": 6},
          "transform": [{"fold": ["Cells Only","CHOK1","FRA","FRB","FRD","Gt-anti-Ms"], "as": ["series","count"]}],
          "resolve": {"axis": {"x": "independent", "y": "independent"}},
          "layer": [
            {
              "transform": [{"filter": "false"}],
              "mark": {"type": "point", "filled": false},
              "encoding": {
                "fill": {"field": "series", "type": "nominal", "scale": {"domain": ["Cells Only","CHOK1","FRA","FRB","FRD","Gt-anti-Ms"], "range": ["#c0c0c0","transparent","transparent","transparent","transparent","transparent"]}, "legend": {"title": "\u00a0", "orient": "none", "legendX": 277, "legendY": 37}},
                "stroke": {"field": "series", "type": "nominal", "scale": {"domain": ["Cells Only","CHOK1","FRA","FRB","FRD","Gt-anti-Ms"], "range": ["#c0c0c0","#ff0000","#00ee00","#0000ff","#ff00ff","#000000"]}, "legend": {"title": "\u00a0", "orient": "none", "legendX": 277, "legendY": 37}},
                "shape": {"field": "series", "type": "nominal", "scale": {"domain": ["Cells Only","CHOK1","FRA","FRB","FRD","Gt-anti-Ms"], "range": ["square","stroke","stroke","stroke","stroke","stroke"]}, "legend": {"title": "\u00a0", "orient": "none", "legendX": 277, "legendY": 37}},
                "strokeDash": {"field": "series", "type": "nominal", "scale": {"domain": ["Cells Only","CHOK1","FRA","FRB","FRD","Gt-anti-Ms"], "range": [[1,0],[1,0],[1,0],[1,0],[1,0],[3,2]]}, "legend": {"title": "\u00a0", "orient": "none", "legendX": 277, "legendY": 37}}
              }
            },
            {
              "transform": [{"filter": "datum.series === 'Cells Only' && datum.count != null"}],
              "mark": {"type": "area", "interpolate": "linear"},
              "encoding": {
                "x": {"field": "e", "type": "quantitative", "scale": {"domain": [0,4], "nice": false, "zero": false}, "axis": {"orient": "bottom", "values": [0,1,2,3,4], "labelExpr": "'10' + ['⁰','¹','²','³','⁴'][datum.value]", "title": "GRN-HLog", "titleFontSize": 25, "tickSize": 9, "labelPadding": 16, "titlePadding": 7}},
                "y": {"field": "count", "type": "quantitative", "scale": {"domain": [0,217], "nice": false}, "axis": {"orient": "left", "values": [0,54.25,108.5,162.75,217], "format": "d", "title": "Count", "titleFontSize": 25, "tickSize": 10, "labelPadding": 20, "titlePadding": 5}},
                "color": {"field": "series", "type": "nominal", "scale": {"domain": ["CHOK1","FRA","FRB","FRD","Gt-anti-Ms","Cells Only"], "range": ["#ff0000","#00ee00","#0000ff","#ff00ff","#000000","#c0c0c0"]}, "legend": null}
              }
            },
            {
              "transform": [{"filter": "datum.series === 'Gt-anti-Ms'"}],
              "mark": {"type": "line", "strokeWidth": 1.3, "strokeDash": [3,2]},
              "encoding": {
                "x": {"field": "e", "type": "quantitative", "axis": {"orient": "bottom", "values": [0.30103,0.47712,0.60206,0.69897,0.77815,0.8451,0.90309,0.95424,1.30103,1.47712,1.60206,1.69897,1.77815,1.8451,1.90309,1.95424,2.30103,2.47712,2.60206,2.69897,2.77815,2.8451,2.90309,2.95424,3.30103,3.47712,3.60206,3.69897,3.77815,3.8451,3.90309,3.95424], "labels": false, "domain": false, "title": null, "tickSize": 5}},
                "y": {"field": "count", "type": "quantitative", "axis": {"orient": "left", "values": [13.5625,27.125,40.6875,67.8125,81.375,94.9375,122.0625,135.625,149.1875,176.3125,189.875,203.4375], "labels": false, "domain": false, "title": null, "tickSize": 4, "offset": 3}},
                "color": {"field": "series", "type": "nominal", "legend": null}
              }
            },
            {
              "transform": [{"filter": "datum.series !== 'Cells Only' && datum.series !== 'Gt-anti-Ms'"}],
              "mark": {"type": "line", "strokeWidth": 1.2},
              "encoding": {
                "x": {"field": "e", "type": "quantitative", "axis": null},
                "y": {"field": "count", "type": "quantitative", "axis": null},
                "color": {"field": "series", "type": "nominal", "legend": null}
              }
            }
          ]
        }
      ]
    }
  ]
}
